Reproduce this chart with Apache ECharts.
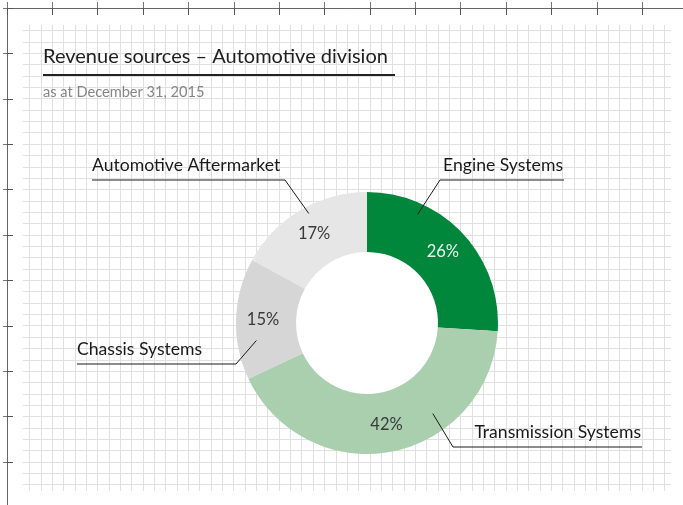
<!DOCTYPE html>
<html>
<head>
<meta charset="utf-8">
<script src="https://cdn.jsdelivr.net/npm/echarts@6/dist/echarts.min.js"></script>
<style>
  html, body { margin: 0; padding: 0; background: #fff; }
  #chart { width: 683px; height: 505px; }
</style>
</head>
<body>
<div id="chart"></div>
<script>
// data
const categories = ['Engine Systems', 'Transmission Systems', 'Chassis Systems', 'Automotive Aftermarket']
const shares = [26, 42, 15, 17]
const sliceColors = ['#00873c', '#a9cfae', '#d6d6d6', '#e6e6e6']

// ring geometry
const ringCenter = [367, 323]
const ringRadius = [71, 131]

// callouts: anchor on ring (angle clockwise from 12 o'clock, radius), text edge, underline y, elbow x
const callouts = [
  { angle: 25, r: 120, align: 'right', textX: 563, lineY: 180, elbowX: 440 },
  { angle: 144, r: 112, align: 'right', textX: 641, lineY: 447, elbowX: 453 },
  { angle: 261, r: 112, align: 'left', textX: 77, lineY: 364, elbowX: 236 },
  { angle: 332, r: 124, align: 'left', textX: 92, lineY: 180, elbowX: 285 }
]

const FONT = 'Lato'

const chart = echarts.init(document.getElementById('chart'))

const pieData = categories.map((name, i) => ({
  name,
  value: shares[i],
  itemStyle: { color: sliceColors[i] },
  label: i === 0 ? { color: '#eef6f0' } : {}
}))

function anchorPoint(c) {
  const a = c.angle * Math.PI / 180
  return [ringCenter[0] + c.r * Math.sin(a), ringCenter[1] - c.r * Math.cos(a)]
}

const option = {
  animation: false,
  backgroundColor: '#fff',
  title: {
    text: 'Revenue sources – Automotive division',
    subtext: 'as at December 31, 2015',
    left: 38,
    top: 42,
    itemGap: 18,
    textStyle: { fontFamily: FONT, fontSize: 20, fontWeight: 'normal', color: '#1e1e1e' },
    subtextStyle: { fontFamily: FONT, fontSize: 14.6, color: '#858585' }
  },
  graphic: [
    {
      type: 'line',
      shape: { x1: 43, y1: 75, x2: 395, y2: 75 },
      style: { stroke: '#222', lineWidth: 2 },
      z: 10
    }
  ],
  grid: [
    // vertical fine lines
    { left: 29.6, top: 25, width: 635, height: 466 },
    // horizontal fine lines
    { left: 22.7, top: 30.6, width: 648.3, height: 454 },
    // outer ruler frame
    { left: 7, top: 8, width: 676, height: 497 }
  ],
  xAxis: [
    {
      gridIndex: 0, type: 'value', min: 0, max: 56, interval: 1,
      axisLine: { show: false }, axisTick: { show: false }, axisLabel: { show: false },
      splitLine: { show: true, lineStyle: { color: '#e0e0e0', width: 1 } }
    },
    {
      gridIndex: 1, type: 'value', show: false
    },
    {
      gridIndex: 2, type: 'value', position: 'top', min: 0, max: 676, interval: 45.37,
      axisLine: { show: true, lineStyle: { color: '#666', width: 1 } },
      axisTick: { show: true, inside: true, length: 7, lineStyle: { color: '#555' } },
      axisLabel: { show: false }, splitLine: { show: false }
    },
    {
      gridIndex: 2, type: 'value', position: 'bottom', min: 0, max: 676, interval: 45.37,
      axisLine: { show: false },
      axisTick: { show: true, inside: true, length: 6, lineStyle: { color: '#777' } },
      axisLabel: { show: false }, splitLine: { show: false }
    }
  ],
  yAxis: [
    {
      gridIndex: 0, type: 'value', show: false
    },
    {
      gridIndex: 1, type: 'value', min: 0, max: 40, interval: 1,
      axisLine: { show: false }, axisTick: { show: false }, axisLabel: { show: false },
      splitLine: { show: true, lineStyle: { color: '#e0e0e0', width: 1 } }
    },
    {
      gridIndex: 2, type: 'value', position: 'left', inverse: true, min: 0, max: 497, interval: 45.4,
      axisLine: { show: true, lineStyle: { color: '#666', width: 1 } },
      axisTick: { show: true, inside: true, length: 6, lineStyle: { color: '#555' } },
      axisLabel: { show: false }, splitLine: { show: false }
    },
    {
      gridIndex: 2, type: 'value', position: 'right', inverse: true, min: 0, max: 497, interval: 45.4,
      axisLine: { show: false },
      axisTick: { show: true, inside: true, length: 4, lineStyle: { color: '#777' } },
      axisLabel: { show: false }, splitLine: { show: false }
    }
  ],
  series: [
    {
      // white hole of the donut
      type: 'pie',
      silent: true,
      center: ringCenter,
      radius: [0, ringRadius[0]],
      data: [{ value: 1, itemStyle: { color: '#fff' } }],
      label: { show: false },
      labelLine: { show: false },
      z: 3
    },
    {
      type: 'pie',
      center: ringCenter,
      radius: ringRadius,
      startAngle: 90,
      clockwise: true,
      silent: true,
      data: pieData,
      label: {
        show: true,
        position: 'inside',
        formatter: '{c}%',
        fontFamily: FONT,
        fontSize: 16.5,
        color: '#3a3a3a'
      },
      labelLine: { show: false },
      z: 4
    },
    {
      // name callouts with underline leaders
      type: 'pie',
      center: ringCenter,
      radius: ringRadius,
      startAngle: 90,
      silent: true,
      avoidLabelOverlap: false,
      data: categories.map((name, i) => ({ name, value: shares[i] })),
      itemStyle: { color: 'rgba(0,0,0,0)' },
      label: {
        show: true,
        position: 'outside',
        formatter: '{b}',
        fontFamily: FONT,
        fontSize: 17.6,
        color: '#1a1a1a'
      },
      labelLine: { show: true, length: 10, length2: 10, lineStyle: { color: '#1a1a1a', width: 1 } },
      labelLayout: function (params) {
        const c = callouts[params.dataIndex]
        const endX = c.align === 'left' ? c.textX : c.textX + 1
        return {
          x: c.textX,
          y: c.lineY - 6,
          align: c.align,
          verticalAlign: 'bottom',
          labelLinePoints: [anchorPoint(c), [c.elbowX, c.lineY], [endX, c.lineY]]
        }
      },
      z: 5
    }
  ]
}

chart.setOption(option)
window.addEventListener('resize', () => chart.resize())
</script>
</body>
</html>
